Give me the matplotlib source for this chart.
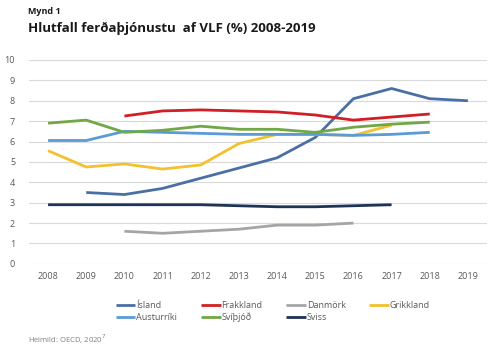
import matplotlib.pyplot as plt

years = list(range(2008, 2020))

island = [None, 3.5, 3.4, 3.7, 4.2, 4.7, 5.2, 6.2, 8.1, 8.6, 8.1, 8.0]
frakkland = [None, None, 7.25, 7.5, 7.55, 7.5, 7.45, 7.3, 7.05, 7.2, 7.35, None]
danmork = [None, None, 1.6, 1.5, 1.6, 1.7, 1.9, 1.9, 2.0, None, None, None]
grikkland = [5.55, 4.75, 4.9, 4.65, 4.85, 5.9, 6.35, 6.35, 6.3, 6.8, None, None]
austurriki = [6.05, 6.05, 6.5, 6.45, 6.4, 6.35, 6.35, 6.35, 6.3, 6.35, 6.45, None]
svithjod = [6.9, 7.05, 6.45, 6.55, 6.75, 6.6, 6.6, 6.45, 6.7, 6.85, 6.95, None]
sviss = [2.9, 2.9, 2.9, 2.9, 2.9, 2.85, 2.8, 2.8, 2.85, 2.9, None, None]

series = [
    ("Ísland", island, "#4a6fa5"),
    ("Frakkland", frakkland, "#d11f26"),
    ("Danmörk", danmork, "#a5a5a5"),
    ("Grikkland", grikkland, "#f2c12e"),
    ("Austurríki", austurriki, "#5b9bd5"),
    ("Svíþjóð", svithjod, "#70a845"),
    ("Sviss", sviss, "#1f3257"),
]

plt.rcParams['font.family'] = ['Open Sans', 'DejaVu Sans']

fig = plt.figure(figsize=(5, 3.59), dpi=100)
ax = fig.add_axes([0.058, 0.265, 0.916, 0.568])

for name, vals, color in series:
    xs = [y for y, v in zip(years, vals) if v is not None]
    ys = [v for v in vals if v is not None]
    ax.plot(xs, ys, color=color, lw=2, label=name, solid_capstyle='butt')

ax.set_xlim(2007.5, 2019.5)
ax.set_ylim(0, 10)
ax.set_yticks(range(0, 11))
ax.set_xticks(years)
ax.grid(axis='y', color='#d9d9d9', lw=0.8)
ax.set_axisbelow(True)
for s in ax.spines.values():
    s.set_visible(False)
ax.tick_params(length=0, labelsize=6.5, labelcolor='#595959')
ax.tick_params(axis='y', pad=10)
ax.tick_params(axis='x', pad=6)

handles, labels = ax.get_legend_handles_labels()
order = [0, 4, 1, 5, 2, 6, 3]
leg = fig.legend([handles[i] for i in order], [labels[i] for i in order],
                 ncol=4, loc='upper left', bbox_to_anchor=(0.215, 0.185),
                 frameon=False, fontsize=6.5, handlelength=2.2, handletextpad=0.1,
                 columnspacing=2.6, labelspacing=0.35, labelcolor='#595959')

fig.text(0.056, 0.96, "Mynd 1", fontsize=6.5, fontweight='bold', color='#1a1a1a')
fig.text(0.056, 0.91, "Hlutfall ferðaþjónustu  af VLF (%) 2008-2019", fontsize=9.5,
         fontweight='bold', color='#1a1a1a')
fig.text(0.056, 0.045, "Heimild: OECD, 2020$^7$", fontsize=5.5, color='#808080')

fig.savefig("out.png", dpi=100)
